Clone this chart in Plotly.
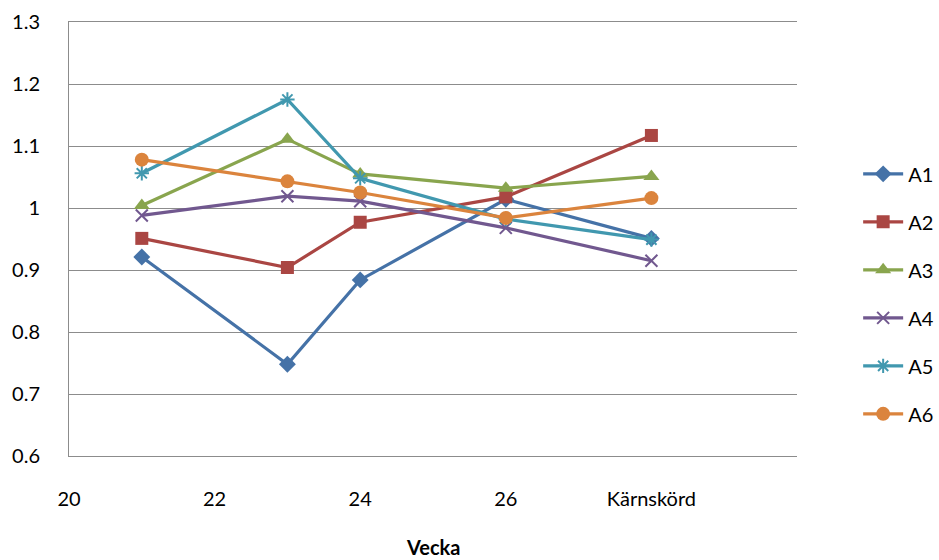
import plotly.graph_objects as go

weeks = [21, 23, 24, 26, 28]
tick_vals = [20, 22, 24, 26, 28]
tick_text = ["20", "22", "24", "26", "Kärnskörd"]

A1 = [0.921, 0.748, 0.884, 1.014, 0.951]
A2 = [0.951, 0.904, 0.977, 1.018, 1.117]
A3 = [1.004, 1.111, 1.055, 1.032, 1.051]
A4 = [0.988, 1.019, 1.011, 0.968, 0.915]
A5 = [1.056, 1.175, 1.048, 0.982, 0.949]
A6 = [1.078, 1.043, 1.025, 0.984, 1.016]

series = [
    ("A1", A1, "#4572A7", "diamond", 13),
    ("A2", A2, "#AA4643", "square", 13),
    ("A3", A3, "#89A54E", "triangle-up", 14),
    ("A4", A4, "#71588F", "x-thin", 12),
    ("A5", A5, "#4198AF", "asterisk", 12),
    ("A6", A6, "#DB843D", "circle", 14),
]

fig = go.Figure()
for name, vals, color, sym, size in series:
    marker = dict(color=color, symbol=sym, size=size)
    if sym in ("x-thin", "asterisk"):
        marker["line"] = dict(color=color, width=2)
    fig.add_trace(go.Scatter(
        x=weeks, y=vals, name=name, mode="lines+markers", legendgroup=name,
        line=dict(color=color, width=3.2), marker=marker,
    ))

grid = "#8c8c8c"
fig.update_layout(
    width=939, height=560,
    margin=dict(l=69, r=142, t=22, b=104, autoexpand=False),
    paper_bgcolor="white", plot_bgcolor="white",
    font=dict(family="Lato", size=20, color="#000000"),
    legend=dict(x=1.084, y=0.695, yanchor="top", xanchor="left",
                tracegroupgap=19, itemwidth=40,
                font=dict(size=20)),
    showlegend=True,
    annotations=[dict(text="<b>Vecka</b>", xref="paper", yref="paper",
                      x=0.5, y=-0.21, yanchor="middle", xanchor="center",
                      showarrow=False, font=dict(size=20))],
)
fig.update_xaxes(
    range=[20, 30], tickvals=tick_vals, ticktext=tick_text,
    showgrid=False, showline=True, linecolor=grid, linewidth=1, mirror=True,
    ticks="", ticklabelstandoff=25, zeroline=False, automargin=False,
)
fig.update_yaxes(
    range=[0.6, 1.3], dtick=0.1, tick0=0.6,
    showgrid=True, gridcolor=grid, gridwidth=1,
    showline=True, linecolor=grid, linewidth=1,
    ticks="", ticklabelstandoff=24, zeroline=False, automargin=False,
    tickformat="~g",
)

fig.write_html("out.html", post_script="document.body.style.margin='0';",
               config={"displayModeBar": False})
